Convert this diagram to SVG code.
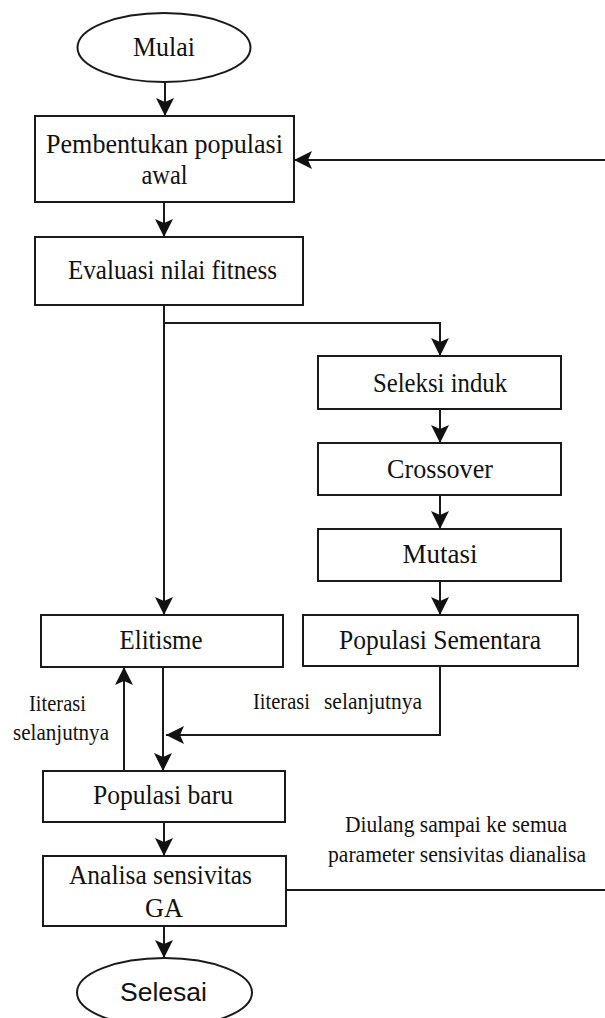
<svg xmlns="http://www.w3.org/2000/svg" width="605" height="1018" viewBox="0 0 605 1018">
  <style>
    .box { fill: #fff; stroke: #1a1a1a; stroke-width: 2; }
    .t { font-family: "Liberation Serif", "Times New Roman", serif; font-size: 27px; fill: #111; text-anchor: middle; }
    .sans { font-family: "Liberation Sans", Arial, sans-serif; font-size: 25px; fill: #111; text-anchor: middle; }
    .lbl { font-family: "Liberation Serif", "Times New Roman", serif; font-size: 22.5px; fill: #111; }
    .wire { fill: none; stroke: #1a1a1a; stroke-width: 2; }
    .arr { marker-end: url(#head); }
  </style>
  <defs>
    <marker id="head" markerUnits="userSpaceOnUse" viewBox="-19 -10 20 20" markerWidth="20" markerHeight="20" refX="0" refY="0" orient="auto">
      <path d="M0,0 L-18,-9 L-14,0 L-18,9 Z" fill="#111"/>
    </marker>
  </defs>
  <rect width="605" height="1018" fill="#fff"/>

  <!-- connectors -->
  <g id="connectors">
    <path class="wire arr" d="M165,82 V116"/>
    <path class="wire arr" d="M164,202 V237"/>
    <path class="wire arr" d="M164,305 V615"/>
    <path class="wire arr" d="M164,323 H440 V356"/>
    <path class="wire arr" d="M440,409 V443"/>
    <path class="wire arr" d="M440,495 V529"/>
    <path class="wire arr" d="M440,581 V615"/>
    <path class="wire arr" d="M440,666 V735 H166"/>
    <path class="wire arr" d="M163,667 V771"/>
    <path class="wire arr" d="M124,771 V667"/>
    <path class="wire arr" d="M164,822 V856"/>
    <path class="wire arr" d="M164,926 V958"/>
    <path class="wire arr" d="M286,890 H612 V160 H294"/>
  </g>

  <!-- edge labels -->
  <g id="labels">
    <text class="lbl" x="29" y="711" textLength="57" lengthAdjust="spacingAndGlyphs">Iiterasi</text>
    <text class="lbl" x="13" y="740" textLength="96" lengthAdjust="spacingAndGlyphs">selanjutnya</text>
    <text class="lbl" x="253" y="709" textLength="57" lengthAdjust="spacingAndGlyphs">Iiterasi</text>
    <text class="lbl" x="324" y="709" textLength="98" lengthAdjust="spacingAndGlyphs">selanjutnya</text>
    <text class="lbl" x="456" y="832" text-anchor="middle" textLength="222" lengthAdjust="spacingAndGlyphs">Diulang sampai ke semua</text>
    <text class="lbl" x="457" y="862" text-anchor="middle" textLength="258" lengthAdjust="spacingAndGlyphs">parameter sensivitas dianalisa</text>
  </g>

  <!-- nodes -->
  <g id="mulai">
    <ellipse class="box" cx="164" cy="47.5" rx="86.5" ry="34.5"/>
    <text class="t" x="164" y="56" textLength="62" lengthAdjust="spacingAndGlyphs">Mulai</text>
  </g>
  <g id="pembentukan">
    <rect class="box" x="35" y="116" width="259" height="86"/>
    <text class="t" x="164.5" y="153" textLength="237" lengthAdjust="spacingAndGlyphs">Pembentukan populasi</text>
    <text class="t" x="164.5" y="184" textLength="46" lengthAdjust="spacingAndGlyphs">awal</text>
  </g>
  <g id="evaluasi">
    <rect class="box" x="35" y="237" width="268" height="68"/>
    <text class="t" x="172.5" y="279" textLength="209" lengthAdjust="spacingAndGlyphs">Evaluasi nilai fitness</text>
  </g>
  <g id="seleksi">
    <rect class="box" x="318" y="356" width="243" height="53"/>
    <text class="t" x="440" y="392" textLength="134" lengthAdjust="spacingAndGlyphs">Seleksi induk</text>
  </g>
  <g id="crossover">
    <rect class="box" x="318" y="443" width="243" height="52"/>
    <text class="t" x="440" y="478" textLength="106" lengthAdjust="spacingAndGlyphs">Crossover</text>
  </g>
  <g id="mutasi">
    <rect class="box" x="318" y="529" width="243" height="52"/>
    <text class="t" x="440" y="563" textLength="75" lengthAdjust="spacingAndGlyphs">Mutasi</text>
  </g>
  <g id="populasi-sementara">
    <rect class="box" x="303" y="615" width="275" height="51"/>
    <text class="t" x="440" y="649" textLength="202" lengthAdjust="spacingAndGlyphs">Populasi Sementara</text>
  </g>
  <g id="elitisme">
    <rect class="box" x="41" y="615" width="242" height="52"/>
    <text class="t" x="161" y="649" textLength="83" lengthAdjust="spacingAndGlyphs">Elitisme</text>
  </g>
  <g id="populasi-baru">
    <rect class="box" x="43" y="771" width="242" height="51"/>
    <text class="t" x="163" y="804" textLength="140" lengthAdjust="spacingAndGlyphs">Populasi baru</text>
  </g>
  <g id="analisa">
    <rect class="box" x="43" y="856" width="243" height="70"/>
    <text class="t" x="160.5" y="884" textLength="183" lengthAdjust="spacingAndGlyphs">Analisa sensivitas</text>
    <text class="t" x="164" y="917" textLength="38" lengthAdjust="spacingAndGlyphs">GA</text>
  </g>
  <g id="selesai">
    <ellipse class="box" cx="164.5" cy="992.5" rx="87.5" ry="34.5"/>
    <text class="sans" x="163.5" y="1001" textLength="87" lengthAdjust="spacingAndGlyphs">Selesai</text>
  </g>
</svg>
